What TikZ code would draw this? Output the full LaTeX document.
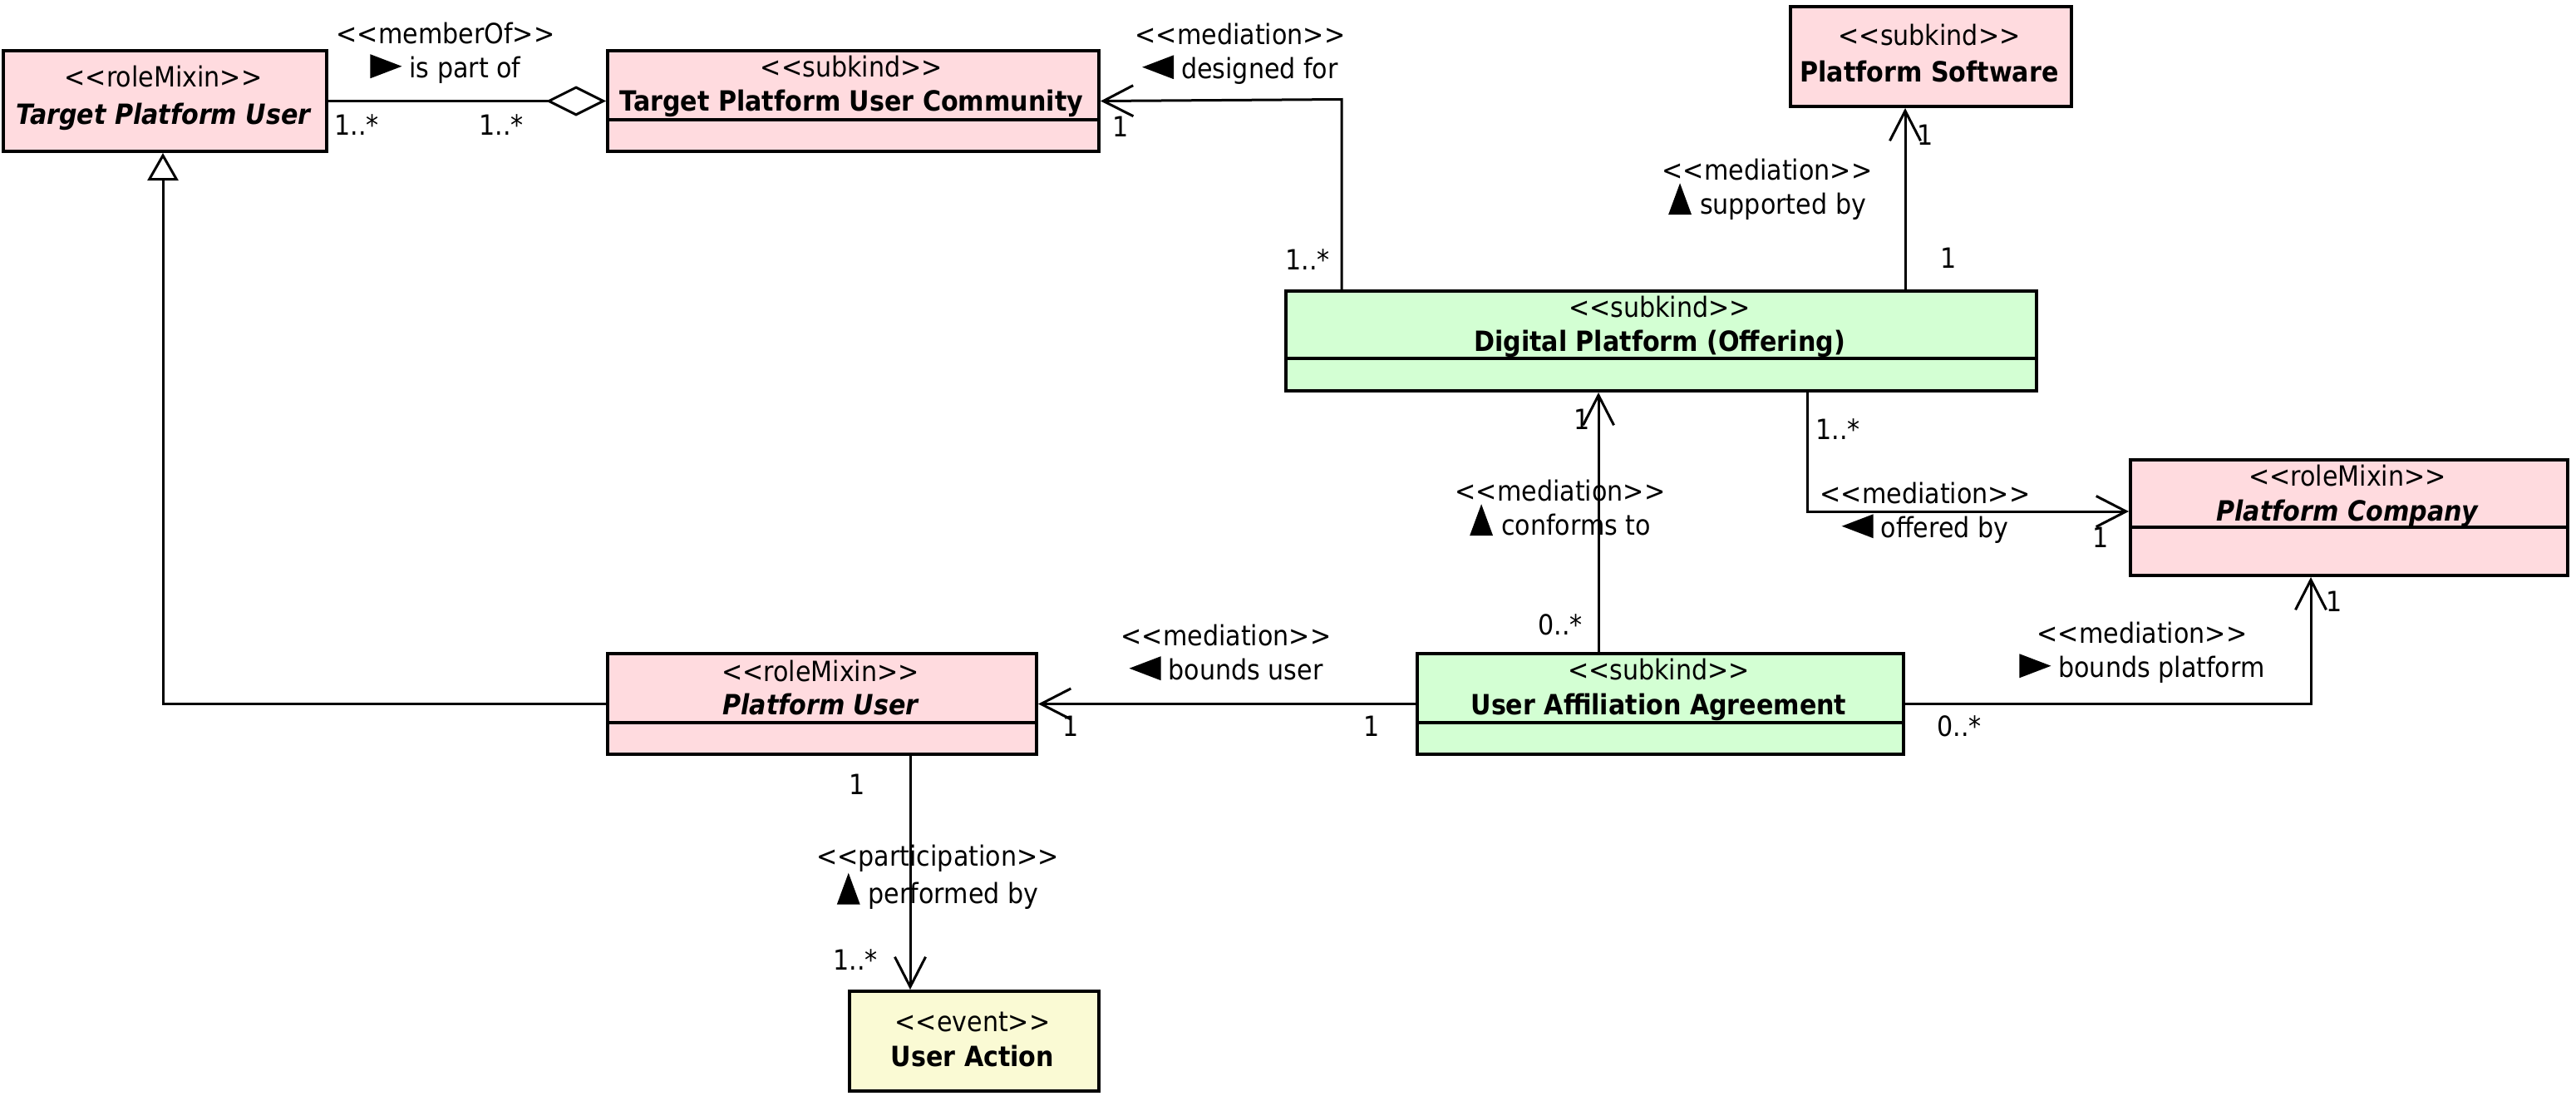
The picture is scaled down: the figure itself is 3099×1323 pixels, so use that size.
\documentclass[tikz,border=0pt]{standalone}
\usepackage{fontspec}
\IfFontExistsTF{DejaVu Sans Condensed}{\setmainfont{DejaVu Sans Condensed}}{\setmainfont{DejaVu Sans}}
\usetikzlibrary{arrows.meta}
\definecolor{pinkc}{RGB}{255,219,223}
\definecolor{greenc}{RGB}{211,255,211}
\definecolor{yellowc}{RGB}{250,250,212}
\newcommand\stereo[1]{{<}{<}#1{>}{>}}
\newcommand\trright{\tikz[baseline=0pt,x=1pt,y=1pt]\fill[black] (0,-1) -- (0,28) -- (38,13.5) -- cycle;\hspace{9pt}}
\newcommand\trleft{\tikz[baseline=0pt,x=1pt,y=1pt]\fill[black] (38,-1) -- (38,28) -- (0,13.5) -- cycle;\hspace{9pt}}
\newcommand\trup{\tikz[baseline=0pt,x=1pt,y=1pt]\fill[black] (0,-1) -- (28,-1) -- (14,37) -- cycle;\hspace{10pt}}
\begin{document}
\begin{tikzpicture}[x=1pt,y=-1pt,
  cls/.style={draw=black, line width=4pt, anchor=north west, inner sep=0pt},
  divider/.style={line width=4pt},
  txt/.style={font=\fontsize{33.5}{41}\selectfont, inner sep=0pt, anchor=base},
  lbl/.style={font=\fontsize{33.5}{41}\selectfont, inner sep=0pt, align=center, anchor=center},
  mult/.style={font=\fontsize{33.5}{41}\selectfont, inner sep=0pt, anchor=center},
  conn/.style={line width=3pt},
  openarr/.style={-{Straight Barb[length=36pt,width=37pt]}},
  aggr/.style={-{Diamond[open,fill=white,length=72pt,width=36pt]}},
  gener/.style={-{Triangle[open,fill=white,length=33pt,width=37pt]}}]
\useasboundingbox (0,0) rectangle (3099,1323);
\fill[white] (0,0) rectangle (3099,1323);

% classes
\node[cls, fill=pinkc, minimum width=389pt, minimum height=121pt] (tpu) at (2,59) {};
\node[txt] (tpus) at (196.5,104) {\stereo{roleMixin}};
\node[txt] (tpun) at (196.5,149) {\bfseries\itshape Target Platform User};

\node[cls, fill=pinkc, minimum width=591pt, minimum height=121pt] (tpuc) at (729,59) {};
\draw[divider] (729,144) -- (1320,144);
\node[txt] (tpucs) at (1024.5,92) {\stereo{subkind}};
\node[txt] (tpucn) at (1024.5,133) {\bfseries Target Platform User Community};

\node[cls, fill=pinkc, minimum width=338pt, minimum height=120pt] (ps) at (2152,6) {};
\node[txt] (pss) at (2321,54) {\stereo{subkind}};
\node[txt] (psn) at (2321,98) {\bfseries Platform Software};

\node[cls, fill=greenc, minimum width=903pt, minimum height=120pt] (dp) at (1545,348) {};
\draw[divider] (1545,431) -- (2448,431);
\node[txt] (dps) at (1996.5,381) {\stereo{subkind}};
\node[txt] (dpn) at (1996.5,422) {\bfseries Digital Platform (Offering)};

\node[cls, fill=pinkc, minimum width=526pt, minimum height=139pt] (pc) at (2561,551) {};
\draw[divider] (2561,634) -- (3087,634);
\node[txt] (pcs) at (2824,584) {\stereo{roleMixin}};
\node[txt] (pcn) at (2824,626) {\bfseries\itshape Platform Company};

\node[cls, fill=pinkc, minimum width=516pt, minimum height=121pt] (pu) at (729,784) {};
\draw[divider] (729,869) -- (1245,869);
\node[txt] (pus) at (987,819) {\stereo{roleMixin}};
\node[txt] (pun) at (987,859) {\bfseries\itshape Platform User};

\node[cls, fill=greenc, minimum width=585pt, minimum height=121pt] (uaa) at (1703,784) {};
\draw[divider] (1703,869) -- (2288,869);
\node[txt] (uaas) at (1995.5,817) {\stereo{subkind}};
\node[txt] (uaan) at (1995.5,859) {\bfseries User Affiliation Agreement};

\node[cls, fill=yellowc, minimum width=300pt, minimum height=120pt] (ua) at (1020,1190) {};
\node[txt] (uas) at (1170,1240) {\stereo{event}};
\node[txt] (uan) at (1170,1282) {\bfseries User Action};

% helper coordinates
\coordinate (c2) at (1614,119.5);
\coordinate (c3) at (2292,0);
\coordinate (c4) at (1923,0);
\coordinate (c5) at (2174,615);
\coordinate (c7) at (2780,0);
\coordinate (c8) at (196,0);
\coordinate (c9) at (1095,0);

% connectors
\draw[conn, aggr] (tpu.east) -- (tpuc.west);
\draw[conn, openarr] (dp.north -| c2) -- (c2) -- (tpuc.east);
\draw[conn, openarr] (dp.north -| c3) -- (ps.south -| c3);
\draw[conn, openarr] (uaa.north -| c4) -- (dp.south -| c4);
\draw[conn, openarr] (dp.south -| c5) -- (c5) -- (pc.west |- c5);
\draw[conn, openarr] (uaa.west) -- (pu.east);
\draw[conn, openarr] (uaa.east) -- (c7 |- uaa.east) -- (pc.south -| c7);
\draw[conn, gener] (pu.west) -- (c8 |- pu.west) -- (tpu.south -| c8);
\draw[conn, openarr] (pu.south -| c9) -- (ua.north -| c9);

% labels
\node[lbl] (l1) at (536,63.5) {\stereo{memberOf}\\\trright is part of};
\node[lbl] (l2) at (1492,64.5) {\stereo{mediation}\\\trleft designed for};
\node[lbl] (l3) at (2126,227.5) {\stereo{mediation}\\\trup supported by};
\node[lbl] (l4) at (1877,610.5) {\stereo{mediation}\\\trup conforms to};
\node[lbl] (l5) at (2316,616.5) {\stereo{mediation}\\\trleft offered by};
\node[lbl] (l6) at (1475,784.5) {\stereo{mediation}\\\trleft bounds user};
\node[lbl] (l7) at (2577,784.5) {\stereo{mediation}\\\trright bounds platform};
\node[lbl] (l9) at (1128,1055) {\stereo{participation}\\\trup performed by};

% multiplicities
\node[mult] (m1a) at (429,150) {1..*};
\node[mult] (m1b) at (603,150) {1..*};
\node[mult] (m2a) at (1348,152) {1};
\node[mult] (m2b) at (1573,312) {1..*};
\node[mult] (m3a) at (2316,162) {1};
\node[mult] (m3b) at (2344,310) {1};
\node[mult] (m4a) at (1903,504) {1};
\node[mult] (m4b) at (1877,751) {0..*};
\node[mult] (m5a) at (2211,516) {1..*};
\node[mult] (m5b) at (2527,646) {1};
\node[mult] (m6a) at (1288,873) {1};
\node[mult] (m6b) at (1650,873) {1};
\node[mult] (m7a) at (2357,873) {0..*};
\node[mult] (m7b) at (2808,723) {1};
\node[mult] (m9a) at (1031,943) {1};
\node[mult] (m9b) at (1029,1154) {1..*};
\end{tikzpicture}
\end{document}
